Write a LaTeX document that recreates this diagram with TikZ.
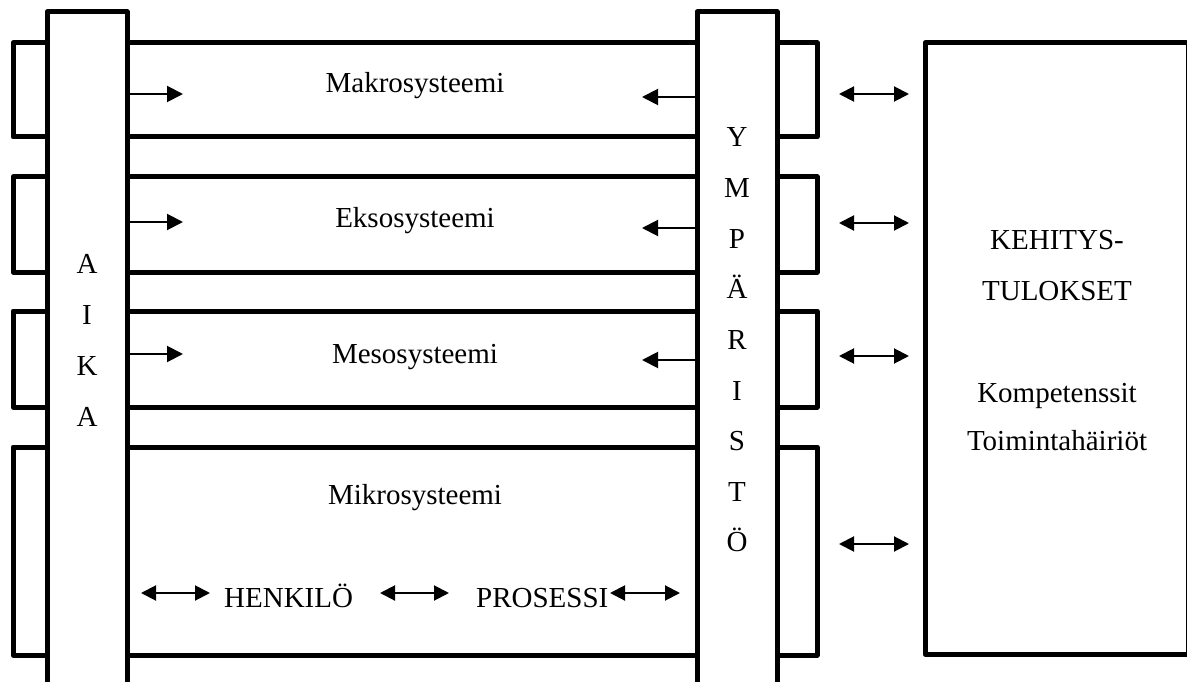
\documentclass[tikz,border=0pt]{standalone}
\usepackage{fontspec}
\setmainfont{Liberation Serif}
\usetikzlibrary{arrows.meta}
\begin{document}
\begin{tikzpicture}[x=1pt,y=-1pt,
  thickline/.style={line width=5pt, line join=round},
  band/.style={draw, thickline, rectangle, inner sep=0pt, outer sep=0pt},
  bar/.style={draw, thickline, rectangle, fill=white, inner sep=0pt, outer sep=0pt},
  lbl/.style={font=\fontsize{29}{35}\selectfont, inner sep=0pt, anchor=base},
  arr/.style={line width=2pt, -{Triangle[length=16pt,width=16pt]}},
  darr/.style={line width=2pt, {Triangle[length=15pt,width=15pt]}-{Triangle[length=15pt,width=15pt]}},
]
\useasboundingbox (0,0) rectangle (1187,682);
\clip (0,0) rectangle (1187,682);

% bands
\node[band, minimum width=804pt, minimum height=94pt] (makro) at (415,90) {};
\node[band, minimum width=804pt, minimum height=95pt] (ekso) at (415,224.5) {};
\node[band, minimum width=804pt, minimum height=96pt] (meso) at (415,359) {};
\node[band, minimum width=804pt, minimum height=208pt] (mikro) at (415,551) {};

% vertical bars
\node[bar, minimum width=80pt, minimum height=688pt] (aika) at (87,356) {};
\node[bar, minimum width=80pt, minimum height=688pt] (ymp) at (737,356) {};

% right box
\node[band, minimum width=263pt, minimum height=611pt] (tulos) at (1056.5,348.5) {};

% band labels
\node[lbl] (lmakro) at (415,93) {Makrosysteemi};
\node[lbl] (lekso) at (415,228) {Eksosysteemi};
\node[lbl] (lmeso) at (415,363) {Mesosysteemi};
\node[lbl] (lmikro) at (415,504) {Mikrosysteemi};

% AIKA letters
\foreach \c [count=\i] in {A,I,K,A}
  \node[lbl] (aika\i) at (87,{273+51*(\i-1)}) {\c};

% YMPARISTO letters
\foreach \c [count=\i] in {Y,M,P,Ä,R,I,S,T,Ö}
  \node[lbl] (ymp\i) at (737,{147+50.6*(\i-1)}) {\c};

% right box text
\node[lbl] (k1) at (1057,249) {KEHITYS-};
\node[lbl] (k2) at (1057,300) {TULOKSET};
\node[lbl] (k3) at (1057,402) {Kompetenssit};
\node[lbl] (k4) at (1057,450) {Toimintahäiriöt};

% arrows from AIKA
\coordinate (ta1) at (183,94);
\coordinate (ta2) at (183,222);
\coordinate (ta3) at (183,354);
\draw[arr] (aika.east |- ta1) -- (ta1);
\draw[arr] (aika.east |- ta2) -- (ta2);
\draw[arr] (aika.east |- ta3) -- (ta3);

% arrows from YMPARISTO
\coordinate (ty1) at (642,97);
\coordinate (ty2) at (642,228);
\coordinate (ty3) at (642,360);
\draw[arr] (ymp.west |- ty1) -- (ty1);
\draw[arr] (ymp.west |- ty2) -- (ty2);
\draw[arr] (ymp.west |- ty3) -- (ty3);

% double arrows to results
\foreach \yy [count=\i] in {94,223,356,544}{
  \coordinate (da\i) at (839,\yy);
  \coordinate (db\i) at (909,\yy);
  \draw[darr] (da\i) -- (db\i);
}

% mikro row
\node[lbl, anchor=base west] (henk) at (224,607) {HENKILÖ};
\node[lbl, anchor=base west] (pros) at (476,607) {PROSESSI};
\coordinate (m1) at (141,593);
\coordinate (m2) at (210,593);
\coordinate (m3) at (380,593);
\coordinate (m4) at (449,593);
\coordinate (m5) at (610,593);
\coordinate (m6) at (680,593);
\draw[darr] (m1) -- (m2);
\draw[darr] (m3) -- (m4);
\draw[darr] (m5) -- (m6);
\end{tikzpicture}
\end{document}
